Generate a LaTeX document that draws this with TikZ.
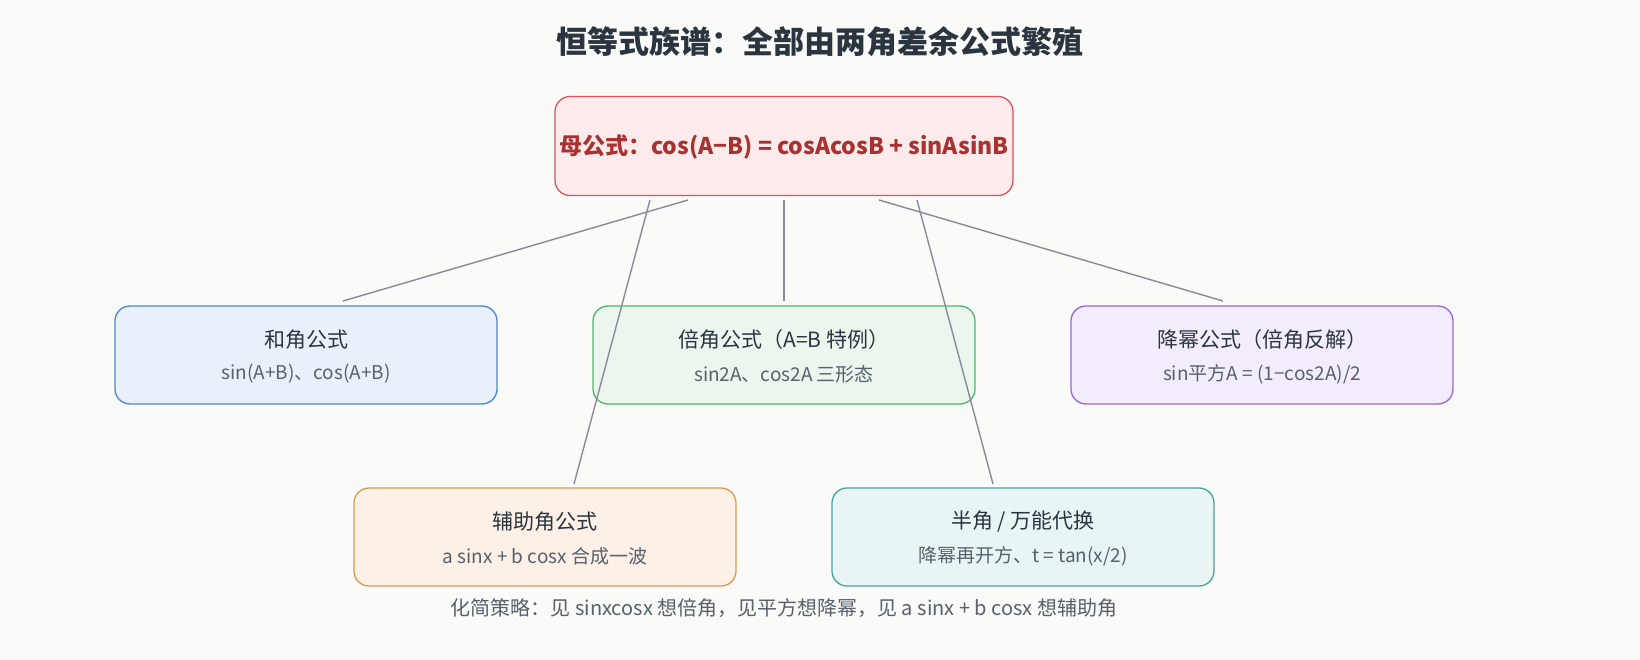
\documentclass[tikz,border=0pt]{standalone}
\usepackage{fontspec}
\setmainfont{Noto Sans CJK SC}
\definecolor{bg}{HTML}{FAFAF8}
\definecolor{titc}{HTML}{2A3540}
\definecolor{subc}{HTML}{56616C}
\definecolor{lineg}{HTML}{8A8A99}
\definecolor{mD}{HTML}{D9545E}\definecolor{mF}{HTML}{FDEAEA}\definecolor{mT}{HTML}{A83232}
\definecolor{bD}{HTML}{4A86D0}\definecolor{bF}{HTML}{E8F0FC}
\definecolor{gD}{HTML}{4CB86A}\definecolor{gF}{HTML}{EAF6EE}
\definecolor{pD}{HTML}{9A66D4}\definecolor{pF}{HTML}{F3ECFB}
\definecolor{oD}{HTML}{DC9A50}\definecolor{oF}{HTML}{FDF0E6}
\definecolor{cD}{HTML}{4AA39C}\definecolor{cF}{HTML}{E8F5F4}
\begin{document}
\begin{tikzpicture}[x=1pt,y=-1pt,
 box/.style={draw,rounded corners=15pt,line width=1.3pt,minimum width=382pt,minimum height=98pt,inner sep=0pt},
 ln/.style={draw=lineg,line width=1.4pt},
 tt/.style={font=\fontsize{21}{25}\selectfont,text=titc},
 st/.style={font=\fontsize{19}{23}\selectfont,text=subc}]
\fill[bg] (0,0) rectangle (1640,660);
\useasboundingbox (0,0) rectangle (1640,660);
\node[font=\bfseries\fontsize{31}{36}\selectfont,text=titc] (title) at (820,42) {恒等式族谱：全部由两角差余公式繁殖};
\node[box,draw=mD,fill=mF,minimum width=458pt,minimum height=99pt] (m) at (784,146) {};
\node[font=\bfseries\fontsize{23}{28}\selectfont,text=mT] (mt) at (784,147) {母公式：cos(A−B) = cosAcosB + sinAsinB};
\node[box,draw=bD,fill=bF] (b1) at (306,355) {};
\node[box,draw=gD,fill=gF] (b2) at (784,355) {};
\node[box,draw=pD,fill=pF] (b3) at (1262,355) {};
\node[box,draw=oD,fill=oF] (b4) at (545,537) {};
\node[box,draw=cD,fill=cF] (b5) at (1023,537) {};
\node[tt] (t1) at (306,340) {和角公式};
\node[st] (s1) at (306,374) {sin(A+B)、cos(A+B)};
\node[tt] (t2) at (784,340) {倍角公式（A=B 特例）};
\node[st] (s2) at (784,374) {sin2A、cos2A 三形态};
\node[tt] (t3) at (1262,340) {降幂公式（倍角反解）};
\node[st] (s3) at (1262,374) {sin平方A = (1−cos2A)/2};
\node[tt] (t4) at (545,522) {辅助角公式};
\node[st] (s4) at (545,556) {a sinx + b cosx 合成一波};
\node[tt] (t5) at (1023,522) {半角 / 万能代换};
\node[st] (s5) at (1023,556) {降幂再开方、t = tan(x/2)};
\node[font=\fontsize{20}{24}\selectfont,text=subc] (foot) at (784,608) {化简策略：见 sinxcosx 想倍角，见平方想降幂，见 a sinx + b cosx 想辅助角};
\coordinate (a1) at (688,200); \coordinate (e1) at (343,301);
\coordinate (a2) at (784,200); \coordinate (e2) at (784,301);
\coordinate (a3) at (879,200); \coordinate (e3) at (1223,301);
\coordinate (a4) at (650,200); \coordinate (e4) at (574,484);
\coordinate (a5) at (917,200); \coordinate (e5) at (993,484);
\foreach \i in {1,...,5} \draw[ln] (a\i) -- (e\i);
\end{tikzpicture}
\end{document}
